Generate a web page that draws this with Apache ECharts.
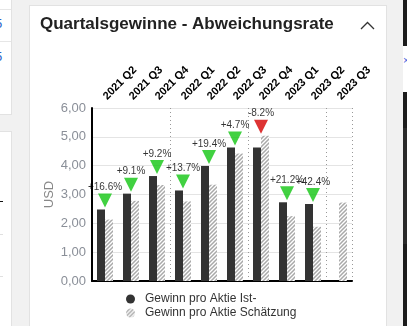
<!DOCTYPE html>
<html>
<head>
<meta charset="utf-8">
<script src="https://cdn.jsdelivr.net/npm/echarts@6/dist/echarts.min.js"></script>
<style>
  html, body { margin: 0; padding: 0; width: 407px; height: 326px; overflow: hidden; background: #f1f1f1; font-family: "Liberation Sans", Arial, sans-serif; }
  .box { position: absolute; box-sizing: border-box; }
  #chart { position: absolute; left: 0; top: 0; width: 407px; height: 326px; z-index: 5; }
</style>
</head>
<body>
<!-- neighbouring panels -->
<div class="box" style="left:-2px;top:0;width:14px;height:115px;background:#fff;border-right:1px solid #e2e2e2;border-bottom:1px solid #e2e2e2;"></div>
<div class="box" style="left:-2px;top:9px;width:13px;height:1px;background:#e6e6e6;"></div>
<div class="box" style="left:-2px;top:41px;width:13px;height:1px;background:#e6e6e6;"></div>
<div class="box" style="left:-5px;top:16px;color:#2a62c8;font-size:13px;">5</div>
<div class="box" style="left:-5px;top:49px;color:#2a62c8;font-size:13px;">5</div>
<div class="box" style="left:-2px;top:131px;width:14px;height:200px;background:#fff;border-right:1px solid #e2e2e2;border-top:1px solid #e2e2e2;"></div>
<div class="box" style="left:0;top:201px;width:3px;height:1px;background:#111;"></div>
<div class="box" style="left:0;top:234px;width:3px;height:1px;background:#e0e0e0;"></div>
<div class="box" style="left:0;top:276px;width:3px;height:1px;background:#e0e0e0;"></div>
<!-- card -->
<div class="box" style="left:29px;top:5px;width:358px;height:330px;background:#fff;border:1px solid #e2e2e2;"></div>
<!-- right strip -->
<div class="box" style="left:403px;top:0;width:4px;height:46px;background:#1c1c1c;"></div>
<div class="box" style="left:403px;top:46px;width:4px;height:46px;background:#fff;"></div>
<div class="box" style="left:403px;top:54px;color:#3b5bdb;font-size:11px;">×</div>
<div class="box" style="left:403px;top:92px;width:4px;height:234px;background:#1c1c1c;"></div>
<div class="box" style="left:403px;top:128px;width:4px;height:116px;background:#2a2a2a;"></div>
<div id="chart"></div>
<script>
// Quarter labels along the top axis
const quarters = ['2021 Q2', '2021 Q3', '2021 Q4', '2022 Q1', '2022 Q2', '2022 Q3', '2022 Q4', '2023 Q1', '2023 Q2', '2023 Q3'];
// Earnings per share, reported (USD)
const epsActual = [2.48, 3.03, 3.64, 3.14, 3.99, 4.63, 4.63, 2.73, 2.67, null];
// Earnings per share, consensus estimate (USD)
const epsEstimate = [2.13, 2.78, 3.33, 2.76, 3.34, 4.42, 5.04, 2.25, 1.88, 2.72];
// Surprise vs. estimate in percent
const surprisePct = [16.6, 9.1, 9.2, 13.7, 19.4, 4.7, -8.2, 21.2, 42.4, null];
// Y axis ticks
const yTicks = [0, 1, 2, 3, 4, 5, 6];

// diagonal hatch fill for the estimate bars
function hatch() {
  const c = document.createElement('canvas');
  c.width = 4; c.height = 4;
  const g = c.getContext('2d');
  g.fillStyle = '#ffffff';
  g.fillRect(0, 0, 4, 4);
  g.strokeStyle = '#a9a9a9';
  g.lineWidth = 1.5;
  g.beginPath();
  g.moveTo(-1, 5); g.lineTo(5, -1);
  g.moveTo(-3, 3); g.lineTo(3, -3);
  g.moveTo(1, 7); g.lineTo(7, 1);
  g.stroke();
  return c;
}
const hatchFill = { image: hatch(), repeat: 'repeat' };

const markers = quarters.map((q, i) => {
  if (surprisePct[i] == null) return null;
  const top = Math.max(epsActual[i] || 0, epsEstimate[i] || 0);
  return {
    value: [q, top],
    pct: surprisePct[i],
    itemStyle: { color: surprisePct[i] >= 0 ? '#11c511' : '#d40000' }
  };
}).filter(Boolean);

const chart = echarts.init(document.getElementById('chart'), null, { renderer: 'canvas' });
chart.setOption({
  backgroundColor: 'transparent',
  animation: false,
  textStyle: { fontFamily: '"Liberation Sans", Arial, sans-serif' },
  title: {
    text: 'Quartalsgewinne - Abweichungsrate',
    left: 35, top: 11,
    textStyle: { fontSize: 17, fontWeight: 'bold', color: '#222' }
  },
  graphic: [{
    type: 'polyline',
    shape: { points: [[361, 29], [367.5, 22.5], [374, 29]] },
    style: { stroke: '#333', lineWidth: 1.3, fill: null }
  }],
  legend: {
    orient: 'vertical',
    left: 126, top: 293,
    padding: 0,
    itemWidth: 9, itemHeight: 9, itemGap: 2,
    icon: 'circle',
    textStyle: { fontSize: 12, color: '#333', padding: [0, 0, 0, 5] },
    data: ['Gewinn pro Aktie Ist-', 'Gewinn pro Aktie Schätzung']
  },
  grid: { left: 92, right: 55, top: 108, bottom: 45 },
  xAxis: [{
    type: 'category',
    data: quarters,
    position: 'bottom',
    axisLine: { show: true, lineStyle: { color: '#000', width: 2 } },
    axisTick: { show: false },
    axisLabel: { show: false },
    splitLine: { show: true, lineStyle: { type: [1, 3], color: '#999', width: 1 } }
  }, {
    type: 'category',
    data: quarters,
    position: 'top',
    axisLine: { show: false },
    axisTick: { show: false },
    axisLabel: { interval: 0, rotate: -45, margin: 10, verticalAlign: 'middle', fontSize: 11, fontWeight: 'bold', color: '#000' },
    splitLine: { show: false }
  }],
  yAxis: {
    type: 'value',
    min: yTicks[0], max: yTicks[yTicks.length - 1], interval: 1,
    name: 'USD', nameLocation: 'middle', nameGap: 36, nameMoveOverlap: false,
    nameTextStyle: { color: '#888', fontSize: 13 },
    axisLine: { show: true, lineStyle: { color: '#000', width: 2 } },
    axisTick: { show: false },
    axisLabel: { color: '#8a8f98', fontSize: 13, margin: 6, formatter: v => v.toFixed(2).replace('.', ',') },
    splitLine: { lineStyle: { color: '#e4e4e4', width: 1 } }
  },
  series: [{
    name: 'Gewinn pro Aktie Ist-',
    type: 'bar',
    data: epsActual,
    barWidth: 8,
    barGap: '0%',
    itemStyle: { color: '#333333' }
  }, {
    name: 'Gewinn pro Aktie Schätzung',
    type: 'bar',
    data: epsEstimate,
    barWidth: 8,
    barGap: '0%',
    itemStyle: { color: hatchFill }
  }, {
    name: 'Abweichung',
    type: 'scatter',
    data: markers,
    symbol: 'triangle',
    symbolRotate: 180,
    symbolSize: [14, 14],
    symbolOffset: [0, -9],
    z: 5,
    label: {
      show: true,
      position: 'top',
      distance: 1,
      fontSize: 10,
      color: '#000',
      formatter: p => (p.data.pct > 0 ? '+' : '') + p.data.pct.toFixed(1) + '%'
    }
  }]
});
</script>
</body>
</html>
